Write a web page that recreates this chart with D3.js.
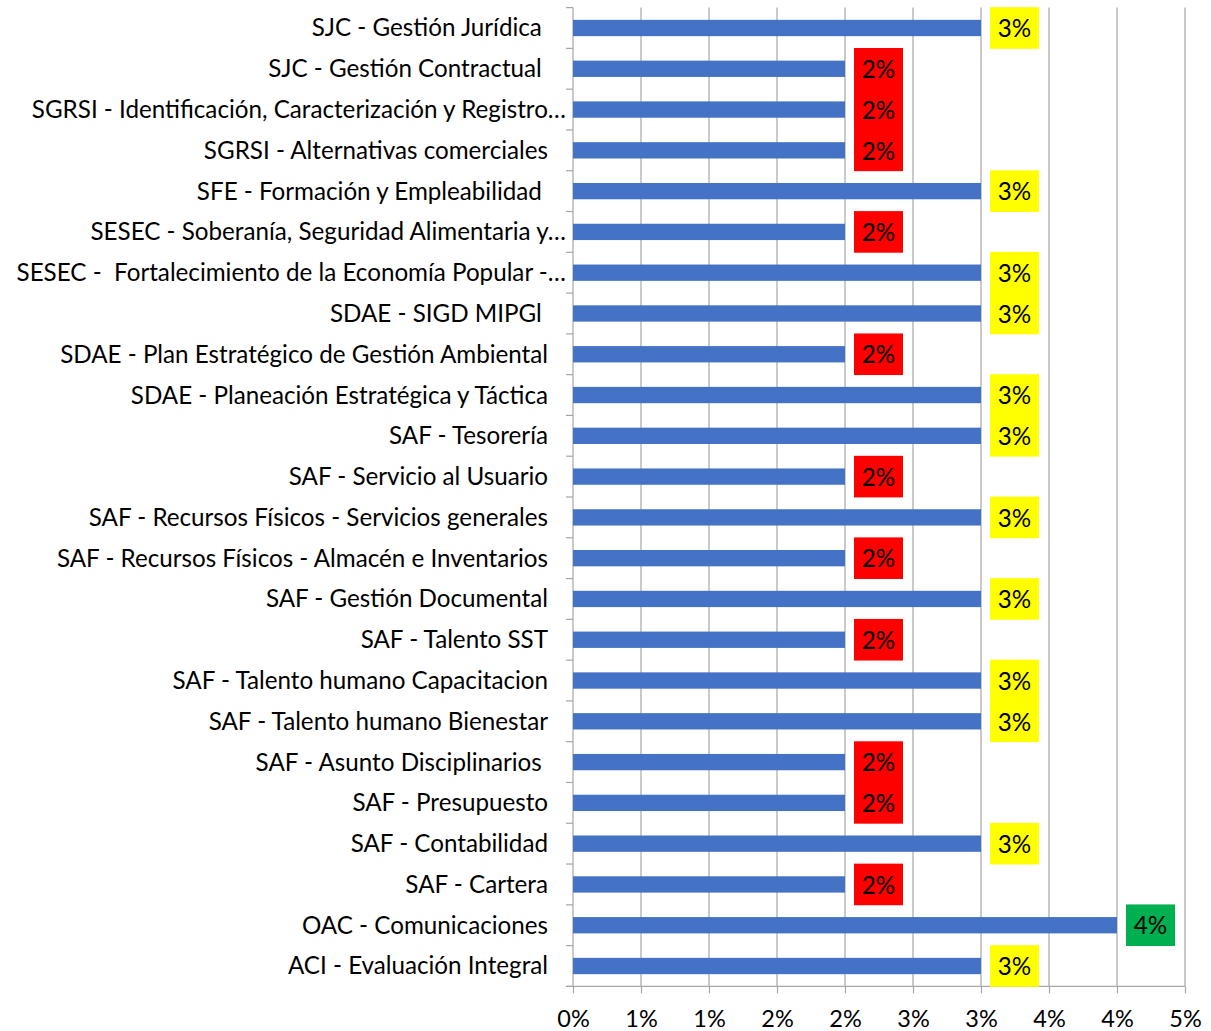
<!DOCTYPE html>
<html><head><meta charset="utf-8">
<script src="https://cdn.jsdelivr.net/npm/d3@7"></script>
<style>
html,body{margin:0;padding:0;background:#fff;}
svg{display:block;}
text{font-family:Lato, "Open Sans", sans-serif;}
</style></head>
<body>
<svg id="chart" width="1211" height="1031"></svg>
<script>
const categories = [
  "SJC - Gestión Jurídica ",
  "SJC - Gestión Contractual ",
  "SGRSI - Identificación, Caracterización y Registro…",
  "SGRSI - Alternativas comerciales",
  "SFE - Formación y Empleabilidad ",
  "SESEC - Soberanía, Seguridad Alimentaria y…",
  "SESEC -  Fortalecimiento de la Economía Popular -…",
  "SDAE - SIGD MIPGl ",
  "SDAE - Plan Estratégico de Gestión Ambiental",
  "SDAE - Planeación Estratégica y Táctica",
  "SAF - Tesorería",
  "SAF - Servicio al Usuario",
  "SAF - Recursos Físicos - Servicios generales",
  "SAF - Recursos Físicos - Almacén e Inventarios",
  "SAF - Gestión Documental",
  "SAF - Talento SST",
  "SAF - Talento humano Capacitacion",
  "SAF - Talento humano Bienestar",
  "SAF - Asunto Disciplinarios ",
  "SAF - Presupuesto",
  "SAF - Contabilidad",
  "SAF - Cartera",
  "OAC - Comunicaciones",
  "ACI - Evaluación Integral"
];
const values = [0.03,0.02,0.02,0.02,0.03,0.02,0.03,0.03,0.02,0.03,0.03,0.02,0.03,0.02,0.03,0.02,0.03,0.03,0.02,0.02,0.03,0.02,0.04,0.03];
const valueLabels = ["3%","2%","2%","2%","3%","2%","3%","3%","2%","3%","3%","2%","3%","2%","3%","2%","3%","3%","2%","2%","3%","2%","4%","3%"];
const tickValues = [0,0.005,0.01,0.015,0.02,0.025,0.03,0.035,0.04,0.045];
const tickLabels = ["0%","1%","1%","2%","2%","3%","3%","4%","4%","5%"];

const svg = d3.select("#chart");
const pLeft = 573, pRight = 1185, pTop = 7.6, pBottom = 986.4;
const fs = 24.2;

const x = d3.scaleLinear().domain([0, 0.045]).range([pLeft, pRight]);
const y = d3.scaleBand().domain(categories).range([pTop, pBottom]).paddingInner(0.6).paddingOuter(0.3);
const step = y.step();

function labelColor(v){ return v >= 0.04 ? "#00B050" : (v >= 0.03 ? "#FFFF00" : "#FF0000"); }

// gridlines
svg.append("g").selectAll("line").data(tickValues.slice(1)).join("line")
  .attr("x1", d => x(d)).attr("x2", d => x(d))
  .attr("y1", pTop).attr("y2", pBottom)
  .attr("stroke", "#A6A6A6").attr("stroke-width", 1.2);

// x axis
const xAxis = d3.axisBottom(x).tickValues(tickValues)
  .tickFormat((d,i) => tickLabels[i]).tickSize(7).tickSizeOuter(0);
const gx = svg.append("g").attr("transform", `translate(0,${pBottom})`).call(xAxis);
gx.select(".domain").attr("stroke", "#A6A6A6").attr("stroke-width", 1.2).attr("d", `M${pLeft-7},0H${pRight}`);
gx.selectAll(".tick line").attr("stroke", "#A6A6A6").attr("stroke-width", 1.2);
gx.selectAll(".tick text").attr("font-size", 23.5).attr("fill", "#000").attr("dy", null).attr("y", 40.5)
  .style("font-family", "Lato, sans-serif");

// y axis line and category ticks
const bounds = d3.range(categories.length + 1).map(i => pTop + i * step);
svg.append("line").attr("x1", pLeft).attr("x2", pLeft).attr("y1", pTop).attr("y2", pBottom)
  .attr("stroke", "#A6A6A6").attr("stroke-width", 1.2);
svg.append("g").selectAll("line").data(bounds).join("line")
  .attr("x1", pLeft - 7).attr("x2", pLeft).attr("y1", d => d).attr("y2", d => d)
  .attr("stroke", "#A6A6A6").attr("stroke-width", 1.2);

// bars
svg.append("g").selectAll("rect").data(categories).join("rect")
  .attr("x", x(0)).attr("y", d => y(d))
  .attr("width", (d,i) => x(values[i]) - x(0))
  .attr("height", y.bandwidth())
  .attr("fill", "#4472C4");

// category labels
svg.append("g").selectAll("text").data(categories).join("text")
  .attr("x", d => d.endsWith("…") ? 566 : 548)
  .attr("y", d => y(d) + y.bandwidth()/2)
  .attr("dy", "0.35em")
  .attr("text-anchor", "end")
  .attr("font-size", fs)
  .attr("fill", "#000")
  .style("white-space", "pre")
  .text(d => d);

// value label boxes
const lg = svg.append("g");
categories.forEach((c, i) => {
  const cx = x(values[i]) + 9;
  const cy = y(c) + y.bandwidth()/2;
  lg.append("rect").attr("x", cx).attr("y", cy - 20.8).attr("width", 49).attr("height", 41.6)
    .attr("fill", labelColor(values[i]));
});
categories.forEach((c, i) => {
  const cx = x(values[i]) + 9;
  const cy = y(c) + y.bandwidth()/2;
  lg.append("text").attr("x", cx + 24.5).attr("y", cy).attr("dy", "0.38em")
    .attr("text-anchor", "middle").attr("font-size", fs).attr("fill", "#000")
    .text(valueLabels[i]);
});
</script>
</body></html>
